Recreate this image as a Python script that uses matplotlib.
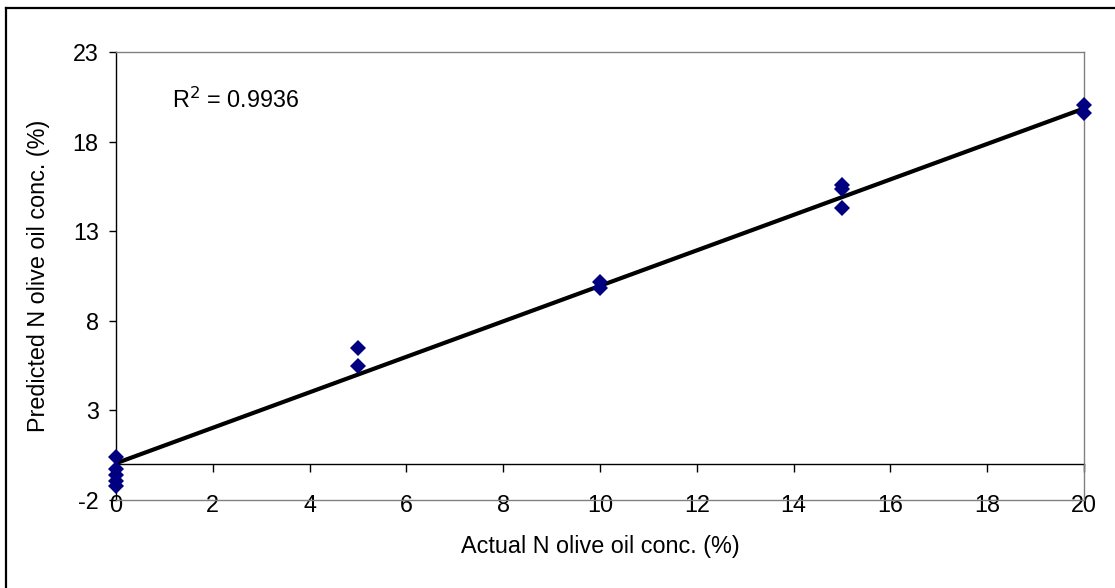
import matplotlib
matplotlib.use("Agg")
import matplotlib.pyplot as plt
from matplotlib.lines import Line2D
import numpy as np

plt.rcParams['font.family'] = ['Liberation Sans', 'DejaVu Sans']

# Data
actual = [0, 0, 0, 0, 0, 5, 5, 10, 10, 15, 15, 15, 20, 20]
predicted = [0.4, -0.28, -0.6, -0.93, -1.23, 6.5, 5.5, 10.17, 9.82,
             15.57, 15.38, 14.32, 20.03, 19.57]
trend_intercept = 0.05
trend_slope = 0.99
r2_text = "R$^2$ = 0.9936"
x_ticks = [0, 2, 4, 6, 8, 10, 12, 14, 16, 18, 20]
y_ticks = [-2, 3, 8, 13, 18, 23]
x_label = "Actual N olive oil conc. (%)"
y_label = "Predicted N olive oil conc. (%)"

W, H = 1115, 588
FS = 16.8
fig = plt.figure(figsize=(W / 100, H / 100), dpi=100)
ax = fig.add_axes([116 / W, 1 - 500 / H, (1084 - 116) / W, (500 - 52) / H])

ax.set_xlim(0, 20)
ax.set_ylim(-2, 23)

# trend line
tx = np.array([0, 20])
ax.plot(tx, trend_intercept + trend_slope * tx, color='black', lw=3.0,
        solid_capstyle='butt', zorder=3)
# points
ax.plot(actual, predicted, linestyle='none', marker='D', markersize=8.5,
        color='#000080', markeredgewidth=0, zorder=4, clip_on=False)

# spines
for s in ['top', 'right', 'bottom']:
    ax.spines[s].set_color('#808080')
    ax.spines[s].set_linewidth(1.0)
ax.spines['left'].set_color('black')
ax.spines['left'].set_linewidth(1.0)

ax.set_yticks(y_ticks)
ax.set_yticklabels([str(v) for v in y_ticks])
ax.tick_params(axis='y', direction='out', length=5, width=1, pad=7.5,
               labelsize=FS)
ax.set_xticks(x_ticks)
ax.set_xticklabels([str(v) for v in x_ticks])
ax.tick_params(axis='x', length=0, pad=-4.5, labelsize=FS)

# x axis crossing at y = 0
sec = ax.secondary_xaxis((0 - (-2)) / 25)
sec.set_xticks(x_ticks)
sec.set_xticklabels([])
sec.tick_params(axis='x', direction='out', length=5.5, width=1)
sec.spines['bottom'].set_color('black')
sec.spines['bottom'].set_linewidth(1.0)

ax.set_xlabel(x_label, fontsize=FS, labelpad=13)
ax.set_ylabel(y_label, fontsize=FS, labelpad=16)

ax.text(0.058, 0.893, r2_text, transform=ax.transAxes, fontsize=FS,
        ha='left', va='center')

# outer chart border (left and top visible)
fig.add_artist(Line2D([5.5 / W, 5.5 / W], [0, 1 - 7.5 / H], color='black',
                      lw=1.6, transform=fig.transFigure))
fig.add_artist(Line2D([5.5 / W, 1], [1 - 7.5 / H, 1 - 7.5 / H], color='black',
                      lw=1.6, transform=fig.transFigure))

fig.savefig("out.png", dpi=100)
